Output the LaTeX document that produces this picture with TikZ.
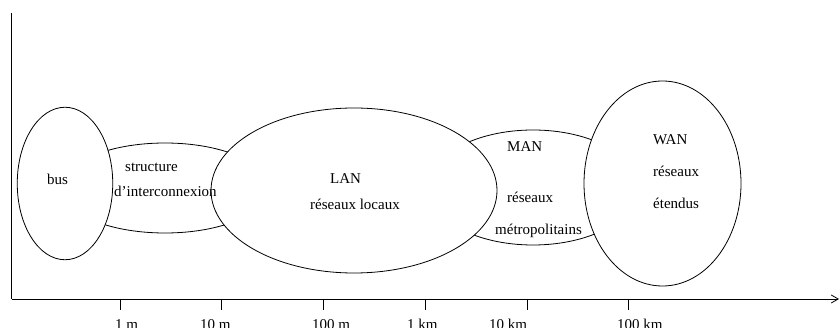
\documentclass[tikz,border=0pt]{standalone}
\usepackage{fontspec}
\setmainfont{Liberation Serif}
\usetikzlibrary{shapes.geometric,arrows.meta}
\begin{document}
\begin{tikzpicture}[x=1pt,y=-1pt,
  blob/.style={ellipse,draw,fill=white,inner sep=0pt,line width=0.8pt},
  lbl/.style={anchor=base west,inner sep=0pt,font=\fontsize{15}{18}\selectfont},
  axisline/.style={line width=0.8pt},
  tick/.style={line width=0.8pt}]
\useasboundingbox (0,0) rectangle (840,328);
% background ellipses
\node[blob,minimum width=208pt,minimum height=90pt] (struct) at (165,188) {};
\node[blob,minimum width=210pt,minimum height=115pt] (man) at (533,187.5) {};
% foreground ellipses
\node[blob,minimum width=95.5pt,minimum height=152.5pt] (bus) at (65,183.5) {};
\node[blob,minimum width=286pt,minimum height=165pt] (lan) at (354,190.5) {};
\node[blob,minimum width=157pt,minimum height=205pt] (wan) at (662.5,183.5) {};
% texts
\node[lbl] (tbus) at (47,185) {bus};
\node[lbl] (tstruct) at (125,172) {structure};
\node[lbl] (tinter) at (114,197) {d’interconnexion};
\node[lbl] (tlan) at (330,184) {LAN};
\node[lbl] (tloc) at (310,210) {réseaux locaux};
\node[lbl] (tman) at (507,152) {MAN};
\node[lbl] (tmres) at (507,203) {réseaux};
\node[lbl] (tmetro) at (495,235) {métropolitains};
\node[lbl] (twan) at (653,145) {WAN};
\node[lbl] (twres) at (653,177) {réseaux};
\node[lbl] (tet) at (653,209) {étendus};
% axes
\coordinate (ytop) at (11.5,13);
\coordinate (orig) at (11.5,299);
\coordinate (xend) at (839,299);
\draw[axisline] (ytop) -- (orig);
\draw[axisline,-{Straight Barb[length=7pt,width=8pt]}] (orig) -- (xend);
% ticks
\foreach \x/\n in {120/a,221/b,323/c,425/d,527/e,628/f}{
  \coordinate (t\n) at (\x,299);
  \coordinate (u\n) at (\x,310);
  \draw[tick] (t\n) -- (u\n);
}
\node[lbl] (l1) at (115,330) {1 m};
\node[lbl] (l2) at (200,330) {10 m};
\node[lbl] (l3) at (312,330) {100 m};
\node[lbl] (l4) at (407,330) {1 km};
\node[lbl] (l5) at (489,330) {10 km};
\node[lbl] (l6) at (617,330) {100 km};
\end{tikzpicture}
\end{document}
